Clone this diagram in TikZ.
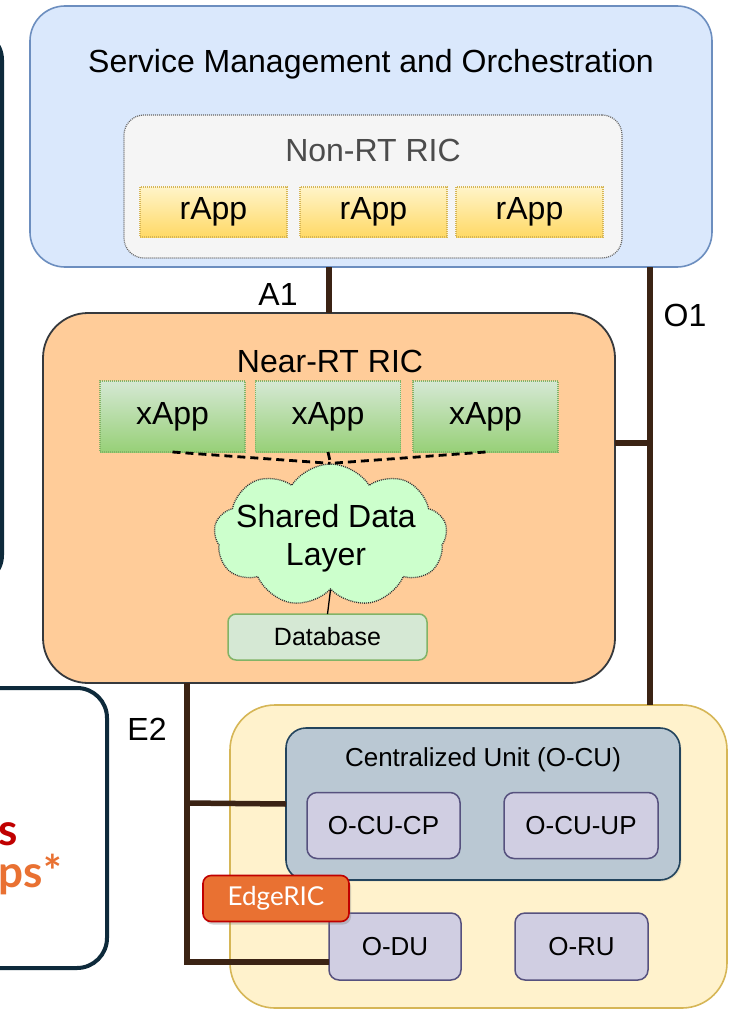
\documentclass[tikz,border=0pt]{standalone}
\usepackage{fontspec}
\setmainfont{Liberation Sans}
\newfontfamily\latofont{Lato}
\usetikzlibrary{shapes.symbols,shadows}
\definecolor{smoFill}{HTML}{DAE8FC}
\definecolor{smoLine}{HTML}{6C8EBF}
\definecolor{nonrtFill}{HTML}{F5F5F5}
\definecolor{nonrtLine}{HTML}{666666}
\definecolor{rappTop}{HTML}{FFF4C8}
\definecolor{rappBot}{HTML}{FFD966}
\definecolor{rappLine}{HTML}{D6B656}
\definecolor{nrtFill}{HTML}{FFCC99}
\definecolor{nrtLine}{HTML}{36393D}
\definecolor{xappTop}{HTML}{D5E8D4}
\definecolor{xappBot}{HTML}{97D077}
\definecolor{xappLine}{HTML}{82B366}
\definecolor{cloudFill}{HTML}{CCFFCC}
\definecolor{dbFill}{HTML}{D5E8D4}
\definecolor{oranFill}{HTML}{FFF2CC}
\definecolor{oranLine}{HTML}{D6B656}
\definecolor{ocuFill}{HTML}{BAC8D3}
\definecolor{ocuLine}{HTML}{23445D}
\definecolor{subFill}{HTML}{D0CEE2}
\definecolor{subLine}{HTML}{56517E}
\definecolor{edgeFill}{HTML}{E97132}
\definecolor{edgeLine}{HTML}{C00000}
\definecolor{connCol}{HTML}{3B2314}
\definecolor{navy}{HTML}{0E2A3B}
\definecolor{redTxt}{HTML}{C00000}
\definecolor{orTxt}{HTML}{E97132}
\tikzset{
  box/.style={rectangle, inner sep=0pt, outer sep=0pt},
  bigtxt/.style={font=\fontsize{32}{38}\selectfont, inner sep=0pt, anchor=base},
  midtxt/.style={font=\fontsize{26}{31}\selectfont, inner sep=0pt, anchor=base},
  rappbox/.style={box, minimum width=147pt, minimum height=50pt, top color=rappTop, bottom color=rappBot, draw=rappLine, line width=1.1pt, dash pattern=on 1pt off 1pt, font=\fontsize{32}{38}\selectfont},
  xappbox/.style={box, minimum width=145pt, minimum height=71pt, top color=xappTop, bottom color=xappBot, draw=xappLine, line width=1.1pt, dash pattern=on 1pt off 1pt, font=\fontsize{32}{38}\selectfont},
  subbox/.style={box, rounded corners=10pt, fill=subFill, draw=subLine, line width=1.5pt, minimum height=66pt, font=\fontsize{26}{31}\selectfont},
  conn/.style={draw=connCol, line width=5.5pt},
  dashconn/.style={draw=black, line width=2.8pt, dash pattern=on 8pt off 5pt},
}
\begin{document}
\begin{tikzpicture}[x=1pt,y=-1pt]
\useasboundingbox (0,0) rectangle (728,1009);
\clip (0,0) rectangle (728,1009);
\fill[white] (0,0) rectangle (728,1009);
% partial left boxes
\node[box, draw=navy, line width=4pt, rounded corners=30pt, minimum width=400pt, minimum height=555pt] (leftbox) at (-198,307.5) {};
\node[box, draw=navy, line width=4pt, rounded corners=30pt, minimum width=400pt, minimum height=280pt] (leftbox2) at (-93,828) {};
\node[inner sep=0pt, anchor=base east, text=redTxt, font=\latofont\bfseries\fontsize{44}{50}\selectfont] (ltxt1) at (18,845) {s};
\node[inner sep=0pt, anchor=base east, text=orTxt, font=\latofont\bfseries\fontsize{44}{50}\selectfont] (ltxt2) at (62,887) {ps*};
% SMO
\node[box, fill=smoFill, draw=smoLine, line width=1.6pt, rounded corners=35pt, minimum width=682pt, minimum height=261pt] (smo) at (371,136.5) {};
\node[bigtxt] (smotxt) at (371,72) {Service Management and Orchestration};
\node[box, fill=nonrtFill, draw=nonrtLine, line width=1.2pt, dash pattern=on 1pt off 1pt, rounded corners=20pt, minimum width=498pt, minimum height=143pt] (nonrt) at (373,186.5) {};
\node[bigtxt, text=black!70] (nonrttxt) at (373,161) {Non-RT RIC};
\node[rappbox] (r1) at (213.5,212) {rApp};
\node[rappbox] (r2) at (373.5,212) {rApp};
\node[rappbox] (r3) at (529.5,212) {rApp};
% Near-RT RIC
\node[box, fill=nrtFill, draw=nrtLine, line width=1.8pt, rounded corners=45pt, minimum width=572pt, minimum height=370pt] (nrt) at (329,498) {};
\node[bigtxt] (nrttxt) at (330,372) {Near-RT RIC};
\node[xappbox] (x1) at (172.5,416.5) {xApp};
\node[xappbox] (x2) at (328,416.5) {xApp};
\node[xappbox] (x3) at (485.5,416.5) {xApp};
\node[cloud, cloud puffs=9, cloud puff arc=115, aspect=1.6, minimum width=233pt, minimum height=143pt, inner sep=0pt, fill=cloudFill, draw=black!80, line width=1.3pt, dash pattern=on 1pt off 1pt] (cloud) at (330.5,535.5) {};
\node[inner sep=0pt, align=center, font=\fontsize{32}{38}\selectfont] (cloudtxt) at (326,538) {Shared Data\\Layer};
\node[box, fill=dbFill, draw=xappLine, line width=1.5pt, rounded corners=8pt, minimum width=199pt, minimum height=46pt, font=\fontsize{25}{30}\selectfont] (db) at (327.5,637) {Database};
\draw[dashconn] (x1.south) -- (cloud.north);
\draw[dashconn] (x2.south) -- (cloud.north);
\draw[dashconn] (x3.south) -- (cloud.north);
\draw[line width=1.3pt] (cloud.south) -- (db.north);
% O-RAN nodes
\node[box, fill=oranFill, draw=oranLine, line width=1.6pt, rounded corners=45pt, minimum width=497pt, minimum height=303pt] (oran) at (478.5,856.5) {};
\node[box, fill=ocuFill, draw=ocuLine, line width=1.6pt, rounded corners=20pt, minimum width=394pt, minimum height=152pt, drop shadow={opacity=0.15, shadow xshift=1.5pt, shadow yshift=-1.5pt}] (ocu) at (483,804) {};
\node[midtxt] (ocutxt) at (483,766) {Centralized Unit (O-CU)};
\node[subbox, minimum width=153pt] (cp) at (383.5,825.5) {O-CU-CP};
\node[subbox, minimum width=154pt] (up) at (581,825.5) {O-CU-UP};
\node[subbox, minimum width=132pt, minimum height=67pt] (odu) at (395,946.5) {O-DU};
\node[subbox, minimum width=133pt, minimum height=67pt] (oru) at (581.5,946.5) {O-RU};
% connectors
\coordinate (o1x) at (650,443);
\coordinate (e2x) at (187,803);
\coordinate (e2b) at (187,962);
\draw[conn] (nrt.north) -- (nrt.north |- smo.south);
\draw[conn] (o1x |- smo.south) -- (o1x |- oran.north);
\draw[conn] (nrt.east |- o1x) -- (o1x);
\draw[conn] (e2x |- nrt.south) -- (e2b) -- (e2b -| odu.west);
\draw[conn] (e2x) -- (ocu.west);
% EdgeRIC
\node[box, fill=edgeFill, draw=edgeLine, line width=1.6pt, rounded corners=8pt, minimum width=146pt, minimum height=46pt, text=white, font=\latofont\fontsize{26}{30}\selectfont, drop shadow={opacity=0.35, shadow xshift=2pt, shadow yshift=-3pt}] (edge) at (276,898.5) {EdgeRIC};
% interface labels
\node[bigtxt] (a1) at (278,305) {A1};
\node[bigtxt] (o1) at (685,326) {O1};
\node[bigtxt] (e2) at (147,740) {E2};
\end{tikzpicture}
\end{document}
